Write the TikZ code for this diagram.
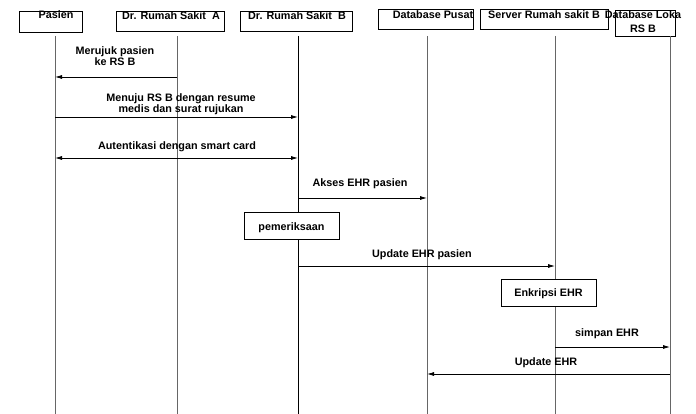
\documentclass[tikz,border=0pt]{standalone}
\usepackage{fontspec}
\setmainfont{Liberation Sans}
\usetikzlibrary{arrows.meta}
\begin{document}
\begin{tikzpicture}[x=1pt,y=-1pt,
  hdr/.style={draw=black,line width=0.7pt,inner sep=0pt},
  lbl/.style={inner sep=0pt,anchor=base,font=\bfseries\fontsize{10.8}{11}\selectfont,align=center},
  life/.style={draw=black!60,line width=1pt},
  lifeb/.style={draw=black,line width=1pt},
  msg/.style={draw=black,line width=0.8pt,-{Latex[length=7pt,width=4pt]}},
  msgb/.style={draw=black,line width=0.8pt,{Latex[length=7pt,width=4pt]}-{Latex[length=7pt,width=4pt]}},
  actbox/.style={draw=black,line width=0.7pt,fill=white,inner sep=0pt}]
\useasboundingbox (0,0) rectangle (696,414);

% participant boxes
\node[hdr,minimum width=63pt,minimum height=21pt] (pasien) at (50.5,21.5) {};
\node[hdr,minimum width=108pt,minimum height=20pt] (dra) at (170,21) {};
\node[hdr,minimum width=112pt,minimum height=20pt] (drb) at (296,21) {};
\node[hdr,minimum width=95pt,minimum height=20pt] (dbp) at (425.5,19) {};
\node[hdr,minimum width=128pt,minimum height=20pt] (srv) at (544,19) {};
\node[hdr,minimum width=60pt,minimum height=26pt] (dbl) at (645,23) {};

\node[lbl] (tpasien) at (56,19) {Pasien};
\node[lbl] (tdra) at (171,20) {Dr. Rumah Sakit\ \ A};
\node[lbl] (tdrb) at (297,20) {Dr. Rumah Sakit\ \ B};
\node[lbl] (tdbp) at (433,18.5) {Database Pusat};
\node[lbl] (tsrv) at (544,18.5) {Server Rumah sakit B};
\node[lbl] (tdbl) at (643,33) {Database Loka\\[3.5pt]RS B};

% lifelines
\coordinate (p0) at (55,36);   \coordinate (p1) at (55,414);
\coordinate (a0) at (177,36);  \coordinate (a1) at (177,414);
\coordinate (b0) at (298,36);  \coordinate (b1) at (298,414);
\coordinate (d0) at (427,36);  \coordinate (d1) at (427,414);
\coordinate (s0) at (555,36);  \coordinate (s1) at (555,414);
\coordinate (l0) at (670,36);  \coordinate (l1) at (670,414);
\draw[life] (p0) -- (p1);
\draw[life] (a0) -- (a1);
\draw[lifeb] (b0) -- (b1);
\draw[life] (d0) -- (d1);
\draw[life] (s0) -- (s1);
\draw[life] (l0) -- (l1);

% message anchors on the lifelines
\coordinate (m1a) at (177,77);  \coordinate (m1p) at (55,77);
\coordinate (m2p) at (55,117);  \coordinate (m2b) at (298,117);
\coordinate (m3p) at (55,158);  \coordinate (m3b) at (298,158);
\coordinate (m4b) at (298,198); \coordinate (m4d) at (427,198);
\coordinate (m6b) at (298,266); \coordinate (m6s) at (555,266);
\coordinate (m8s) at (555,347); \coordinate (m8l) at (670,347);
\coordinate (m9l) at (670,374); \coordinate (m9d) at (427,374);

\draw[msg] (m1a) -- (m1p);
\node[lbl] (t1) at (115,66) {Merujuk pasien\\ke RS B};
\draw[msg] (m2p) -- (m2b);
\node[lbl] (t2) at (181,112.7) {Menuju RS B dengan resume\\medis dan surat rujukan};
\draw[msgb] (m3p) -- (m3b);
\node[lbl] (t3) at (177,149.3) {Autentikasi dengan smart card};
\draw[msg] (m4b) -- (m4d);
\node[lbl] (t4) at (360,186.7) {Akses EHR pasien};

\node[actbox,minimum width=95pt,minimum height=27pt] (periksa) at (291.5,225.5) {};
\node[lbl] (tperiksa) at (291.5,230) {pemeriksaan};

\draw[msg] (m6b) -- (m6s);
\node[lbl] (t6) at (422,257.3) {Update EHR pasien};

\node[actbox,minimum width=95pt,minimum height=27pt] (enkripsi) at (548.5,292.5) {};
\node[lbl] (tenkripsi) at (548.5,296.7) {Enkripsi EHR};

\draw[msg] (m8s) -- (m8l);
\node[lbl] (t8) at (607,336.7) {simpan EHR};
\draw[msg] (m9l) -- (m9d);
\node[lbl] (t9) at (546,365) {Update EHR};
\end{tikzpicture}
\end{document}
